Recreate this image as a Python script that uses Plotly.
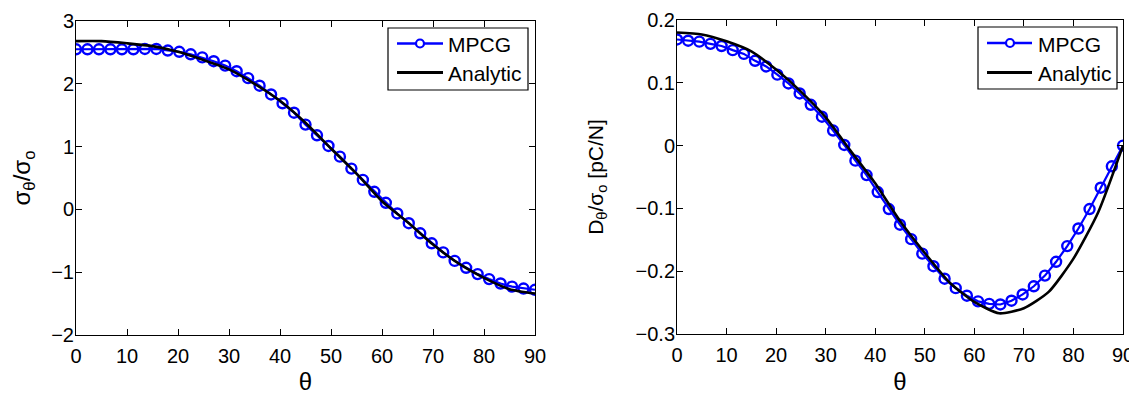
import plotly.graph_objects as go

# ---------------- data ----------------
theta_mpcg = [i * 2.25 for i in range(41)]
sigma_mpcg = [2.55, 2.55, 2.55, 2.55, 2.55, 2.55, 2.555, 2.555, 2.53, 2.51,
              2.47, 2.42, 2.36, 2.29, 2.20, 2.09, 1.97, 1.83, 1.69, 1.54,
              1.35, 1.18, 1.01, 0.84, 0.65, 0.47, 0.28, 0.105, -0.065, -0.22,
              -0.38, -0.54, -0.685, -0.82, -0.93, -1.03, -1.11, -1.18, -1.23, -1.26,
              -1.28]
d_mpcg = [0.169, 0.167, 0.1655, 0.162, 0.1586, 0.152, 0.146, 0.135, 0.126, 0.113,
          0.099, 0.083, 0.065, 0.046, 0.024, 0.001, -0.024, -0.047, -0.074, -0.101,
          -0.126, -0.149, -0.172, -0.192, -0.212, -0.227, -0.239, -0.248, -0.252, -0.253,
          -0.247, -0.237, -0.224, -0.207, -0.185, -0.160, -0.132, -0.101, -0.067, -0.033,
          0.0]

theta_an = [0, 5, 10, 15, 20, 25, 30, 35, 40, 45, 50, 55, 60, 65, 70, 75, 80, 85, 90]
sigma_an = [2.68, 2.68, 2.645, 2.60, 2.51, 2.38, 2.23, 2.00, 1.73, 1.38,
            0.97, 0.57, 0.13, -0.20, -0.56, -0.86, -1.09, -1.27, -1.34]
d_an = [0.180, 0.177, 0.166, 0.150, 0.121, 0.086, 0.045, -0.008, -0.060, -0.120,
        -0.171, -0.218, -0.249, -0.267, -0.259, -0.233, -0.180, -0.106, 0.0]

series_names = ["MPCG", "Analytic"]
x_ticks = [0, 10, 20, 30, 40, 50, 60, 70, 80, 90]
y1_ticks = [-2, -1, 0, 1, 2, 3]
y2_ticks = [-0.3, -0.2, -0.1, 0, 0.1, 0.2]

# ---------------- figure ----------------
OFF = 8                      # page body margin of the html page
SW, SH = 1137, 395           # screenshot size
W, H = SW - OFF, SH - OFF    # figure size
FONT = "Liberation Sans, Arial, Helvetica, sans-serif"
BLUE = "#0000ff"

fig = go.Figure()

def add_pair(xa, ya, y_mp, y_an):
    fig.add_trace(go.Scatter(
        x=theta_mpcg, y=y_mp, mode="lines+markers", name=series_names[0],
        line=dict(color=BLUE, width=2.2),
        marker=dict(symbol="circle-open", size=10, color=BLUE,
                    line=dict(color=BLUE, width=2.4)),
        xaxis=xa, yaxis=ya, showlegend=False))
    fig.add_trace(go.Scatter(
        x=theta_an, y=y_an, mode="lines", name=series_names[1],
        line=dict(color="black", width=2.6, shape="spline", smoothing=0.6),
        xaxis=xa, yaxis=ya, showlegend=False))

add_pair("x", "y", sigma_mpcg, sigma_an)
add_pair("x2", "y2", d_mpcg, d_an)

def fx(s):
    return (s - OFF) / W

def fy(s):
    return (H - (s - OFF)) / H

# ---------- boxed legends (MATLAB style) ----------
shapes = []
annotations = []

def add_legend(bx0, bx1, by0, by1, lx0, lx1, mx, tx, rows):
    shapes.append(dict(type="rect", xref="paper", yref="paper",
                       x0=fx(bx0), x1=fx(bx1), y0=fy(by1), y1=fy(by0),
                       line=dict(color="black", width=1.2), fillcolor="white",
                       layer="above"))
    # row 1: MPCG (line + marker)
    r1, r2 = rows
    shapes.append(dict(type="line", xref="paper", yref="paper",
                       x0=fx(lx0), x1=fx(lx1), y0=fy(r1), y1=fy(r1),
                       line=dict(color=BLUE, width=2.4), layer="above"))
    rr = 4
    shapes.append(dict(type="circle", xref="paper", yref="paper",
                       x0=fx(mx - rr), x1=fx(mx + rr), y0=fy(r1 + rr), y1=fy(r1 - rr),
                       line=dict(color=BLUE, width=2.2), fillcolor="white",
                       layer="above"))
    shapes.append(dict(type="line", xref="paper", yref="paper",
                       x0=fx(lx0), x1=fx(lx1), y0=fy(r2), y1=fy(r2),
                       line=dict(color="black", width=2.8), layer="above"))
    for name, r in zip(series_names, rows):
        annotations.append(dict(text=name, xref="paper", yref="paper",
                                x=fx(tx), y=fy(r + 1), xanchor="left", yanchor="middle",
                                showarrow=False,
                                font=dict(family=FONT, size=21, color="black")))

add_legend(388, 528, 28, 90, 397, 443, 420, 446, (43.5, 72.5))
add_legend(978, 1117, 27, 89, 987, 1032, 1010, 1036, (43, 72.5))

axis_common = dict(
    showline=True, linecolor="black", linewidth=1, mirror="ticks",
    ticks="inside", ticklen=6, tickwidth=1, tickcolor="black",
    showgrid=False, zeroline=False, automargin=False,
    tickfont=dict(family=FONT, size=20, color="black"),
)

fig.update_layout(
    width=W, height=H,
    margin=dict(l=0, r=0, t=0, b=0, autoexpand=False),
    paper_bgcolor="white", plot_bgcolor="white",
    font=dict(family=FONT, color="black"),
    showlegend=False,
    shapes=shapes, annotations=annotations,
    xaxis=dict(domain=[fx(76), fx(535)], range=[0, 90], tickmode="array",
               tickvals=x_ticks, anchor="y", ticklabelstandoff=3,
               title=dict(text="θ", font=dict(size=24, family=FONT), standoff=16),
               **axis_common),
    yaxis=dict(domain=[fy(335), fy(21)], range=[-2, 3], tickmode="array",
               tickvals=y1_ticks, anchor="x", ticklabelstandoff=-3,
               title=dict(text="σ<sub>θ</sub>/σ<sub>o</sub>",
                          font=dict(size=24, family=FONT), standoff=17),
               **axis_common),
    xaxis2=dict(domain=[fx(677), fx(1123)], range=[0, 90], tickmode="array",
                tickvals=x_ticks, anchor="y2", ticklabelstandoff=3,
                title=dict(text="θ", font=dict(size=24, family=FONT), standoff=16),
                **axis_common),
    yaxis2=dict(domain=[fy(334), fy(20)], range=[-0.3, 0.2], tickmode="array",
                tickvals=y2_ticks, anchor="x2", ticklabelstandoff=-3,
                title=dict(text="D<sub>θ</sub>/σ<sub>o</sub> [pC/N]",
                           font=dict(size=21, family=FONT), standoff=26),
                **axis_common),
)

fig.write_html("out.html")
